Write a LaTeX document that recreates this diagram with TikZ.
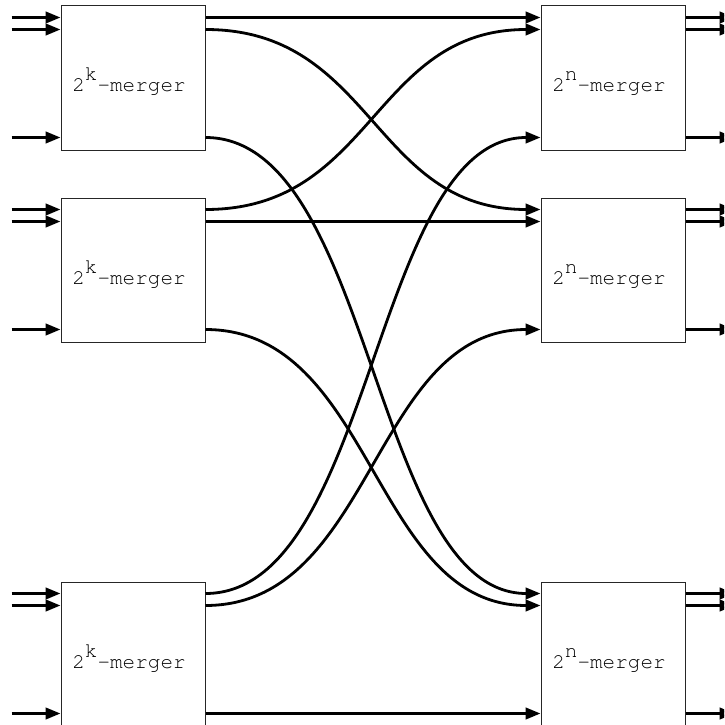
\documentclass[tikz,border=0pt]{standalone}
\usepackage[T1]{fontenc}
\usepackage{courier}
\usetikzlibrary{arrows.meta,calc}
\tikzset{
  mbox/.style={draw=black!85, line width=1pt, fill=white, minimum width=144pt, minimum height=144pt, inner sep=0pt},
  mlbl/.style={font=\fontfamily{pcr}\fontsize{21}{21}\selectfont, anchor=base, inner sep=0pt},
  wire/.style={line width=2.8pt, -{Triangle[length=15pt,width=11.5pt]}}
}
\newcommand{\mlabel}[1]{2\raisebox{11pt}{#1}-merger}
\begin{document}
\begin{tikzpicture}[x=1pt,y=-1pt]
\useasboundingbox (0,0) rectangle (724,725);
\clip (0,0) rectangle (724,725);
% boxes
\node[mbox] (L1) at (133,78) {};
\node[mbox] (L2) at (133,270) {};
\node[mbox] (L3) at (133,654) {};
\node[mbox] (R1) at (613,78) {};
\node[mbox] (R2) at (613,270) {};
\node[mbox] (R3) at (613,654) {};
\foreach \b/\s in {L1/k,L2/k,L3/k,R1/n,R2/n,R3/n}{
  \node[mlbl] (\b lbl) at ($(\b.center)+(-4,14)$) {\mlabel{\s}};
}
% ports
\foreach \b in {L1,L2,L3,R1,R2,R3}{
  \coordinate (\b i1) at ($(\b.north west)+(0,12)$);
  \coordinate (\b i2) at ($(\b.north west)+(0,24)$);
  \coordinate (\b i3) at ($(\b.north west)+(0,132)$);
  \coordinate (\b o1) at ($(\b.north east)+(0,12)$);
  \coordinate (\b o2) at ($(\b.north east)+(0,24)$);
  \coordinate (\b o3) at ($(\b.north east)+(0,132)$);
  \coordinate (\b s1) at ($(\b.north west)+(-49,12)$);
  \coordinate (\b s2) at ($(\b.north west)+(-49,24)$);
  \coordinate (\b s3) at ($(\b.north west)+(-49,132)$);
  \coordinate (\b e1) at ($(\b.north east)+(49,12)$);
  \coordinate (\b e2) at ($(\b.north east)+(49,24)$);
  \coordinate (\b e3) at ($(\b.north east)+(49,132)$);
}
% inputs of left boxes
\foreach \b in {L1,L2,L3}{
  \foreach \k in {1,2,3}{
    \draw[wire] (\b s\k) -- (\b i\k);
  }
}
% outputs of right boxes
\foreach \b in {R1,R2,R3}{
  \foreach \k in {1,2,3}{
    \draw[wire] (\b o\k) -- (\b e\k);
  }
}
% straight connections
\draw[wire] (L1o1) -- (R1i1);
\draw[wire] (L2o2) -- (R2i2);
\draw[wire] (L3o3) -- (R3i3);
% crossing curves
\draw[wire] (L1o2) .. controls +(168,0) and +(-168,0) .. (R2i1);
\draw[wire] (L1o3) .. controls +(168,0) and +(-168,0) .. (R3i1);
\draw[wire] (L2o1) .. controls +(168,0) and +(-168,0) .. (R1i2);
\draw[wire] (L2o3) .. controls +(168,0) and +(-168,0) .. (R3i2);
\draw[wire] (L3o1) .. controls +(168,0) and +(-168,0) .. (R1i3);
\draw[wire] (L3o2) .. controls +(168,0) and +(-168,0) .. (R2i3);
\end{tikzpicture}
\end{document}
